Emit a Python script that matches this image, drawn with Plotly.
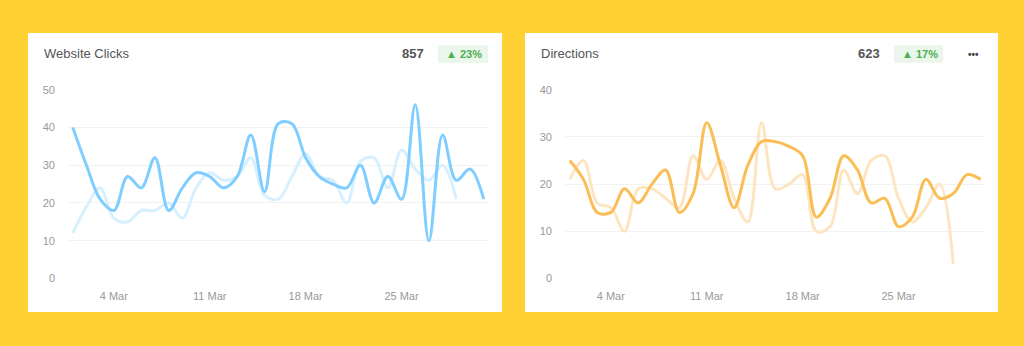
import pandas as pd
import plotly.graph_objects as go

# ---------------- data ----------------
dates = pd.date_range("2024-03-01", "2024-03-31", freq="D")
prev_dates = dates[:29]

clicks_current = [40, 30, 21, 18, 27, 24, 32, 18, 24, 28, 27, 24, 27, 38, 23, 41,
                  41, 32, 27, 25, 24, 30, 20, 27, 21, 46, 10, 38, 26, 29, 21]
clicks_previous = [12, 19, 24, 16, 15, 18, 18, 20, 16, 24, 28, 26, 27, 32, 22, 21,
                   27, 33, 27, 26, 20, 31, 32, 24, 34, 29, 26, 30, 21]

directions_current = [25, 21, 14, 14, 19, 16, 20, 23, 14, 18, 33, 24, 15, 24, 29, 29,
                      28, 26, 13, 17, 26, 23, 16, 17, 11, 13, 21, 17, 18, 22, 21]
directions_previous = [21, 25, 16, 15, 10, 19, 19, 17, 15, 26, 21, 25, 17, 12, 33, 19,
                       20, 22, 10, 11, 23, 18, 25, 26, 17, 12, 15, 20, 3]

tick_dates = ["2024-03-04", "2024-03-11", "2024-03-18", "2024-03-25"]
tick_labels = ["4 Mar", "11 Mar", "18 Mar", "25 Mar"]

cards = [
    dict(title="Website Clicks", total="857", change="23%", ymax=50, yticks=[0, 10, 20, 30, 40, 50],
         cur=clicks_current, prev=clicks_previous, dark="#80CDFF", light="#D7F0FF"),
    dict(title="Directions", total="623", change="17%", ymax=40, yticks=[0, 10, 20, 30, 40],
         cur=directions_current, prev=directions_previous, dark="#FBBE55", light="#FEE5C2"),
]

# ---------------- layout helpers ----------------
W, H = 1024, 346
FONT = "Liberation Sans, Arial, Helvetica, sans-serif"


def px(x):
    return x / W


def py(y):
    return 1 - y / H


card_boxes = [(28, 28, 502, 317), (525, 28, 998, 317)]
plot_x = [(68, 488), (565, 985)]
plot_y = (86.7, 282.3)

fig = go.Figure()
shapes = []
annotations = []

for k, c in enumerate(cards):
    xa = "x" if k == 0 else "x2"
    ya = "y" if k == 0 else "y2"
    fig.add_trace(go.Scatter(x=prev_dates, y=c["prev"], mode="lines",
                             line=dict(color=c["light"], width=3, shape="spline", smoothing=1),
                             xaxis=xa, yaxis=ya, hoverinfo="skip", showlegend=False))
    fig.add_trace(go.Scatter(x=dates, y=c["cur"], mode="lines",
                             line=dict(color=c["dark"], width=3, shape="spline", smoothing=1),
                             xaxis=xa, yaxis=ya, hoverinfo="skip", showlegend=False))

    x0, y0, x1, y1 = card_boxes[k]
    shapes.append(dict(type="rect", xref="paper", yref="paper", layer="below",
                       x0=px(x0), x1=px(x1), y0=py(y1), y1=py(y0),
                       fillcolor="#FFFFFF", line=dict(width=0)))

    # title
    annotations.append(dict(text=c["title"], xref="paper", yref="paper", x=px(x0 + 14), y=py(49.5),
                            xanchor="left", yanchor="middle", showarrow=False,
                            font=dict(family=FONT, size=13, color="#555555")))
    # badge
    if k == 0:
        bx0, bx1, total_right = 438, 488, 426
    else:
        bx0, bx1, total_right = 894, 943, 882
    shapes.append(dict(type="rect", xref="paper", yref="paper", layer="below",
                       x0=px(bx0), x1=px(bx1), y0=py(58.7), y1=py(40.7),
                       fillcolor="#EAF6EA", line=dict(width=0)))
    annotations.append(dict(text="<b>" + c["total"] + "</b>", xref="paper", yref="paper",
                            x=px(total_right), y=py(49.5), xanchor="right", yanchor="middle",
                            showarrow=False, font=dict(family=FONT, size=13, color="#555555")))
    annotations.append(dict(text="<b>▲ " + c["change"] + "</b>", xref="paper", yref="paper",
                            x=px((bx0 + bx1) / 2 + 1), y=py(49.5), xanchor="center", yanchor="middle",
                            showarrow=False, font=dict(family=FONT, size=11, color="#4CAF50")))

# dots menu on second card
annotations.append(dict(text="<b>•••</b>", xref="paper", yref="paper", x=px(973), y=py(50),
                        xanchor="center", yanchor="middle", showarrow=False,
                        font=dict(family=FONT, size=10, color="#444444")))

x_range = ["2024-02-29 15:40", "2024-03-31 07:30"]
axis_common_x = dict(range=x_range, tickvals=tick_dates, ticktext=tick_labels, showgrid=False,
                     zeroline=False, showline=False, ticks="", ticklabelstandoff=9,
                     tickfont=dict(family=FONT, size=11, color="#999999"), fixedrange=True)

layout_axes = {}
for k, c in enumerate(cards):
    sx = "" if k == 0 else "2"
    layout_axes["xaxis" + sx] = dict(axis_common_x, domain=[px(plot_x[k][0]), px(plot_x[k][1])],
                                     anchor="y" + sx)
    layout_axes["yaxis" + sx] = dict(range=[0, c["ymax"]], tickvals=c["yticks"],
                                     domain=[py(plot_y[1]), py(plot_y[0])], anchor="x" + sx,
                                     showgrid=True, gridcolor="#F2F2F2", gridwidth=1,
                                     zeroline=False, showline=False, ticks="", ticklabelstandoff=12,
                                     tickfont=dict(family=FONT, size=11, color="#999999"),
                                     fixedrange=True)

fig.update_layout(width=W, height=H, margin=dict(l=0, r=0, t=0, b=0),
                  paper_bgcolor="#FFD133", plot_bgcolor="rgba(0,0,0,0)",
                  shapes=shapes, annotations=annotations, showlegend=False, **layout_axes)

fig.write_html("out.html", config=dict(displayModeBar=False))
